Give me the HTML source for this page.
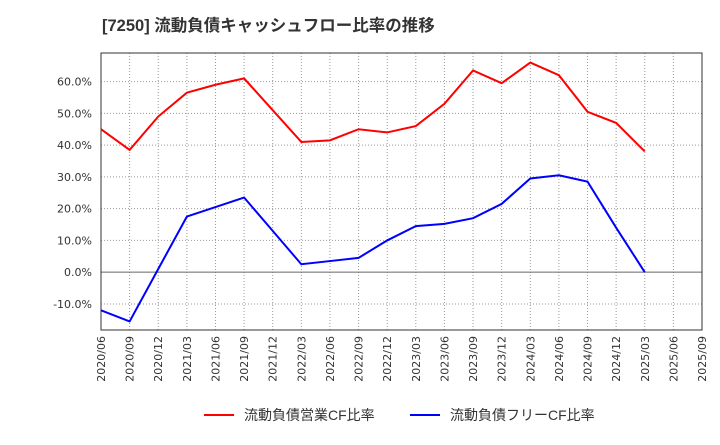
<!DOCTYPE html>
<html><head><meta charset="utf-8"><style>
body{margin:0;background:#fff;font-family:"Liberation Sans","Noto Sans CJK JP",sans-serif;}
</style></head><body>
<svg width="720" height="440" xmlns="http://www.w3.org/2000/svg">
<text x="102" y="31" font-size="16.5" font-weight="bold" fill="#333" font-family="Liberation Sans, Noto Sans CJK JP, sans-serif">[7250]  流動負債キャッシュフロー比率の推移</text>
<g id="grid"></g><g id="axes"></g><g id="series"></g>
<g>
<line x1="204" y1="415" x2="234" y2="415" stroke="#f00" stroke-width="2"/>
<text x="244" y="420" font-size="14" fill="#333">流動負債営業CF比率</text>
<line x1="410" y1="415" x2="440" y2="415" stroke="#00f" stroke-width="2"/>
<text x="450" y="420" font-size="14" fill="#333">流動負債フリーCF比率</text>
</g>
</svg>
<script>
const categories=["2020/06","2020/09","2020/12","2021/03","2021/06","2021/09","2021/12","2022/03","2022/06","2022/09","2022/12","2023/03","2023/06","2023/09","2023/12","2024/03","2024/06","2024/09","2024/12","2025/03","2025/06","2025/09"];
const operatingCF=[45,38.5,49,56.5,59,61,51,41,41.5,45,44,46,53,63.5,59.5,66,62,50.5,47,38];
const freeCF=[-12,-15.5,1,17.5,20.5,23.5,13,2.5,3.5,4.5,10,14.5,15.2,17,21.5,29.5,30.5,28.5,14,0];
const yTicks=[-10,0,10,20,30,40,50,60];
const NS="http://www.w3.org/2000/svg";
const L=101,R=702,T=53,B=330,yMin=-18.2,yMax=69;
const x=i=>L+i*(R-L)/(categories.length-1);
const y=v=>B-(v-yMin)/(yMax-yMin)*(B-T);
function mk(tag,attrs,parent){const e=document.createElementNS(NS,tag);for(const k in attrs)e.setAttribute(k,attrs[k]);parent.appendChild(e);return e;}
const grid=document.getElementById('grid'),axes=document.getElementById('axes'),series=document.getElementById('series');
const tf='DejaVu Sans, sans-serif';
categories.forEach((c,i)=>{
 const g=mk('line',{x1:x(i),x2:x(i),y1:T,y2:B,stroke:'#999','stroke-dasharray':'1,2','stroke-width':1},grid);
 
 
 const t=mk('text',{x:0,y:0,'font-size':11,'font-family':tf,fill:'#333','text-anchor':'end',transform:`translate(${x(i)+4},${B+6}) rotate(-90)`},axes);
 t.textContent=c;
 
 
});
yTicks.forEach(v=>{
 const g=mk('line',{x1:L,x2:R,y1:y(v),y2:y(v),stroke:v===0?'#666':'#999','stroke-dasharray':v===0?'':'1,2','stroke-width':1},grid);
 
 
 const t=mk('text',{x:L-9,y:y(v)+4,'font-size':11,'font-family':tf,fill:'#333','text-anchor':'end'},axes);
 t.textContent=v.toFixed(1)+'%';
 
 
});
const frame=mk('rect',{x:L,y:T,width:R-L,height:B-T,fill:'none',stroke:'#333','stroke-width':1},axes);


function line(data,color,name){
 const p=mk('polyline',{points:data.map((v,i)=>x(i)+','+y(v)).join(' '),fill:'none',stroke:color,'stroke-width':2},series);
 
 
}
line(operatingCF,'#f00','operating-cf-line');
line(freeCF,'#00f','free-cf-line');
</script>
</body></html>
